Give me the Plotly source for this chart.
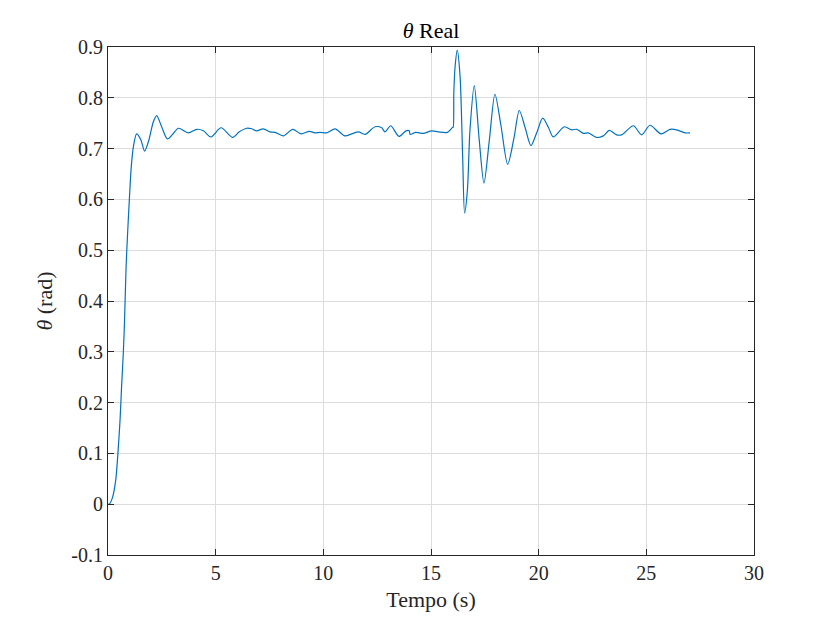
import plotly.graph_objects as go

tempo = [0, 0.05, 0.2, 0.36, 0.46, 0.56, 0.63, 0.71, 0.77, 0.84, 0.91, 0.99, 1.08, 1.18,
         1.33, 1.52, 1.70, 1.90, 2.1, 2.26, 2.5, 2.76, 3.0, 3.27, 3.73, 4.12, 4.43, 4.78,
         5.25, 5.79, 6.1, 6.44, 6.67, 6.9, 7.21, 7.52, 7.76, 8.14, 8.58, 8.96, 9.35, 9.61,
         9.85, 10.16, 10.55, 11.0, 11.32, 11.63, 11.94, 12.4, 12.71, 12.86, 13.13, 13.51,
         13.84, 13.99, 14.03, 14.29, 14.64, 15.03, 15.34, 15.76, 16.01, 16.03, 16.06, 16.12,
         16.22, 16.35, 16.47, 16.56, 16.69, 16.81, 17.01, 17.24, 17.46, 17.71, 17.97, 18.25,
         18.56, 18.85, 19.10, 19.38, 19.64, 19.9, 20.19, 20.45, 20.68, 21.19, 21.53, 21.77,
         22.07, 22.3, 22.69, 23.0, 23.28, 23.62, 23.85, 24.40, 24.78, 25.17, 25.68, 26.1,
         26.41, 26.8, 27.03]
theta = [0, 0.0, 0.012, 0.048, 0.10, 0.166, 0.231, 0.297, 0.363, 0.468, 0.533, 0.599, 0.664, 0.704,
         0.729, 0.718, 0.695, 0.717, 0.752, 0.765, 0.742, 0.719, 0.728, 0.740, 0.731, 0.738, 0.735, 0.723,
         0.741, 0.722, 0.733, 0.740, 0.739, 0.735, 0.739, 0.733, 0.732, 0.725, 0.738, 0.729, 0.734, 0.731,
         0.732, 0.731, 0.739, 0.725, 0.729, 0.733, 0.728, 0.743, 0.741, 0.733, 0.745, 0.724,
         0.735, 0.735, 0.728, 0.732, 0.730, 0.735, 0.733, 0.732, 0.742, 0.742, 0.81, 0.862,
         0.894, 0.842, 0.684, 0.573, 0.618, 0.737, 0.824, 0.717, 0.632, 0.717, 0.807, 0.745,
         0.669, 0.72, 0.775, 0.74, 0.706, 0.73, 0.760, 0.742, 0.723, 0.743, 0.737, 0.738,
         0.730, 0.731, 0.722, 0.725, 0.736, 0.727, 0.727, 0.745, 0.727, 0.746, 0.729, 0.738,
         0.737, 0.731, 0.731]

xticks = [0, 5, 10, 15, 20, 25, 30]
yticks = [-0.1, 0, 0.1, 0.2, 0.3, 0.4, 0.5, 0.6, 0.7, 0.8, 0.9]
yticktext = ["-0.1", "0", "0.1", "0.2", "0.3", "0.4", "0.5", "0.6", "0.7", "0.8", "0.9"]

FONT = "Liberation Serif"

fig = go.Figure()
fig.add_trace(go.Scatter(x=tempo, y=theta, mode="lines",
                         line=dict(color="#0072BD", width=1.2, shape="spline", smoothing=0.8),
                         showlegend=False))

axis_common = dict(showline=True, linecolor="#262626", linewidth=1, mirror="ticks",
                   ticks="inside", ticklen=6, tickcolor="#262626",
                   showgrid=True, gridcolor="#dcdcdc", gridwidth=1, zeroline=False,
                   automargin=False,
                   tickfont=dict(family=FONT, size=20, color="#262626"))

fig.update_layout(
    width=834, height=625,
    paper_bgcolor="white", plot_bgcolor="white",
    margin=dict(l=100, r=88, t=39, b=78),
    title=dict(text="<i>θ</i> Real", x=0.5, xanchor="center", xref="paper",
               y=1 - 22 / 625, yanchor="middle",
               font=dict(family=FONT, size=22, color="black")),
    xaxis=dict(range=[0, 30], tickvals=xticks,
               title=dict(text="Tempo (s)", font=dict(family=FONT, size=22, color="#262626"), standoff=8),
               **axis_common),
    yaxis=dict(range=[-0.1, 0.9], tickvals=yticks, ticktext=yticktext,
               title=dict(text="<i>θ</i> (rad)", font=dict(family=FONT, size=22, color="#262626"), standoff=12),
               **axis_common),
)

fig.write_html("out.html")
